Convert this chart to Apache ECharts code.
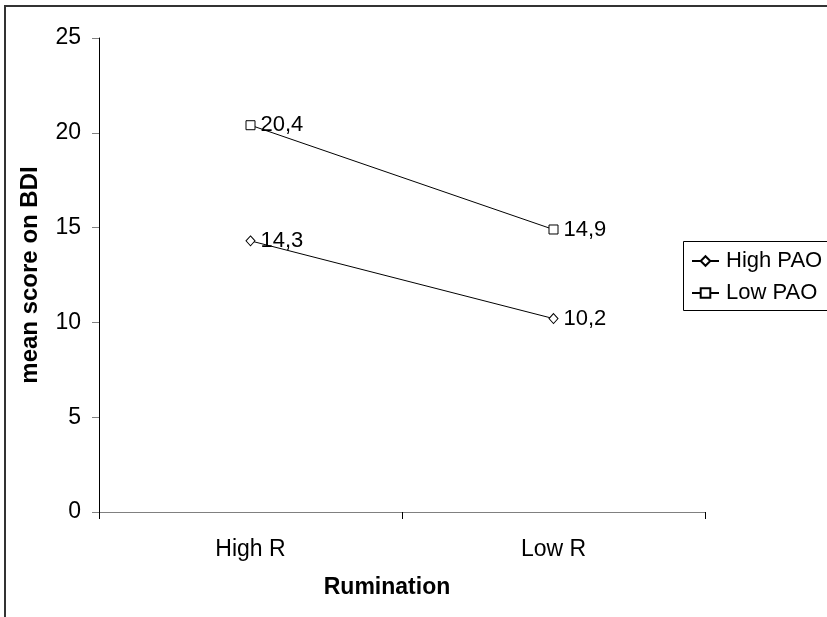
<!DOCTYPE html>
<html><head><meta charset="utf-8">
<script src="https://cdn.jsdelivr.net/npm/echarts@6/dist/echarts.min.js"></script>
<style>html,body{margin:0;padding:0;background:#fff}#c{width:827px;height:617px}</style>
</head><body><div id="c"></div>
<script>
const categories = ["High R", "Low R"];
const highPAO = [14.3, 10.2];
const lowPAO = [20.4, 14.9];
const yTicks = [0, 5, 10, 15, 20, 25];

const font = "Liberation Sans, Arial, sans-serif";
const chart = echarts.init(document.getElementById('c'), null, {renderer: 'canvas'});
const lbl = {show: true, position: 'right', distance: 5, color: '#000', fontFamily: font, fontSize: 22,
  formatter: p => String(p.value).replace('.', ',')};
chart.setOption({
  animation: false,
  backgroundColor: '#fff',
  graphic: [{type: 'rect', shape: {x: 5, y: 6, width: 1000, height: 1000}, style: {fill: 'none', stroke: '#333', lineWidth: 2}, z: 0},
            {type: 'rect', shape: {x: 683.5, y: 241.5, width: 300, height: 69}, style: {fill: 'none', stroke: '#000', lineWidth: 1}, z: 0}],
  grid: {left: 99, top: 38, right: 122, bottom: 105},
  legend: {orient: 'vertical', left: 691, top: 250, padding: 0, itemWidth: 27, itemHeight: 12, itemGap: 10,
    textStyle: {fontFamily: font, fontSize: 22, lineHeight: 22, color: '#000', padding: [0, 0, 0, 2]},
    data: ['High PAO', 'Low PAO']},
  xAxis: {type: 'category', data: categories, boundaryGap: true,
    name: 'Rumination', nameLocation: 'middle', nameGap: 64,
    nameTextStyle: {fontFamily: font, fontSize: 23, fontWeight: 'bold', color: '#000', padding: [0, 30, 0, 0]},
    axisLine: {lineStyle: {color: '#808080', width: 1}},
    axisTick: {show: true, length: 7, alignWithLabel: false, lineStyle: {color: '#000'}},
    axisLabel: {fontFamily: font, fontSize: 23, color: '#000', margin: 26}},
  yAxis: {type: 'value', min: yTicks[0], max: yTicks[yTicks.length - 1], interval: 5,
    name: 'mean score on BDI', nameLocation: 'middle', nameGap: 57, nameRotate: 90,
    nameTextStyle: {fontFamily: font, fontSize: 24, fontWeight: 'bold', color: '#000'},
    axisLine: {show: true, lineStyle: {color: '#000', width: 1}},
    axisTick: {show: true, inside: false, length: 7, lineStyle: {color: '#808080'}},
    splitLine: {show: false},
    axisLabel: {fontFamily: font, fontSize: 23, color: '#000', margin: 18}},
  series: [
    {name: 'High PAO', type: 'line', data: highPAO, symbol: 'diamond', symbolSize: [9, 10],
     lineStyle: {color: '#000', width: 1}, itemStyle: {color: '#fff', borderColor: '#000', borderWidth: 1},
     label: lbl},
    {name: 'Low PAO', type: 'line', data: lowPAO, symbol: 'rect', symbolSize: 9,
     lineStyle: {color: '#000', width: 1}, itemStyle: {color: '#fff', borderColor: '#000', borderWidth: 1},
     label: lbl}
  ]
});
</script></body></html>
